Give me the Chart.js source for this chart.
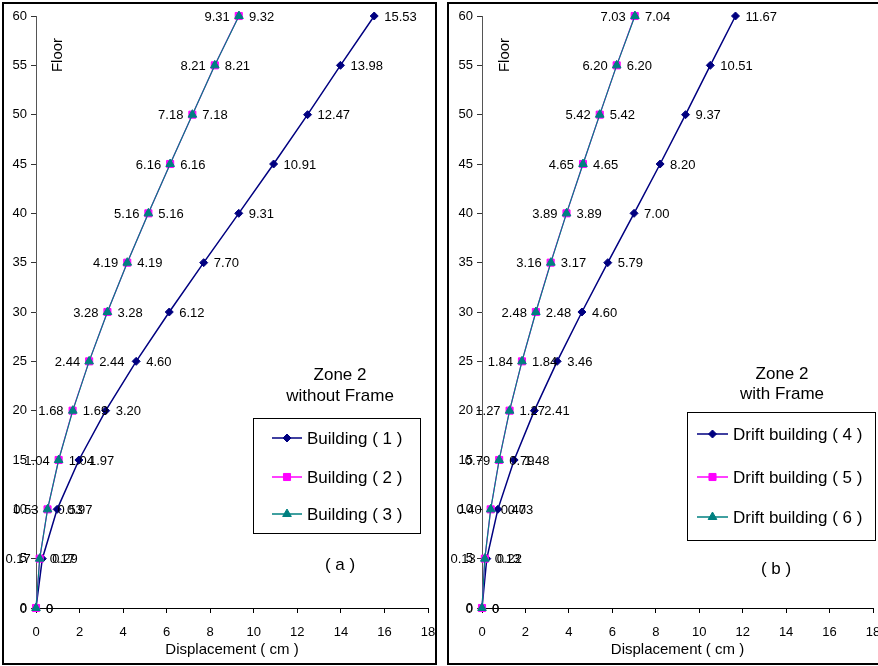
<!DOCTYPE html>
<html>
<head>
<meta charset="utf-8">
<script src="https://cdn.jsdelivr.net/npm/chart.js@4.4.1/dist/chart.umd.min.js"></script>
<style>
  html,body{margin:0;padding:0;background:#fff;overflow:hidden;}
  #wrap{position:relative;width:878px;height:666px;overflow:hidden;background:#fff;}
  canvas{position:absolute;top:0;}
  .box{position:absolute;border:2px solid #000;box-sizing:border-box;pointer-events:none;}
</style>
</head>
<body>
<div id="wrap">
  <canvas id="c1" width="440" height="666" style="left:0px"></canvas>
  <canvas id="c2" width="440" height="666" style="left:440px"></canvas>
  <div class="box" style="left:2px;top:2px;width:435px;height:663px;"></div>
  <div class="box" style="left:447px;top:2px;width:440px;height:663px;"></div>
</div>
<script>
// ---- data ----
const floors = [0, 5, 10, 15, 20, 25, 30, 35, 40, 45, 50, 55, 60];
const building1 = [0, 0.29, 0.97, 1.97, 3.20, 4.60, 6.12, 7.70, 9.31, 10.91, 12.47, 13.98, 15.53];
const building2 = [0, 0.17, 0.53, 1.04, 1.68, 2.44, 3.28, 4.19, 5.16, 6.16, 7.18, 8.21, 9.31];
const building3 = [0, 0.17, 0.53, 1.04, 1.69, 2.44, 3.28, 4.19, 5.16, 6.16, 7.18, 8.21, 9.32];
const drift4 = [0, 0.22, 0.73, 1.48, 2.41, 3.46, 4.60, 5.79, 7.00, 8.20, 9.37, 10.51, 11.67];
const drift5 = [0, 0.13, 0.40, 0.79, 1.27, 1.84, 2.48, 3.16, 3.89, 4.65, 5.42, 6.20, 7.03];
const drift6 = [0, 0.13, 0.40, 0.79, 1.27, 1.84, 2.48, 3.17, 3.89, 4.65, 5.42, 6.20, 7.04];
const namesA = ['Building ( 1 )', 'Building ( 2 )', 'Building ( 3 )'];
const namesB = ['Drift building ( 4 )', 'Drift building ( 5 )', 'Drift building ( 6 )'];
const xTitle = 'Displacement ( cm )';
const yTitle = 'Floor';

const FONT = '"Liberation Sans", Arial, Helvetica, sans-serif';
Chart.defaults.font.family = FONT;
Chart.defaults.color = '#000';

const styles = [
  {color:'#000080', point:'rectRot', r:4, side:'right', order:2, lw:1.5},
  {color:'#FF00FF', point:'rect', r:5, side:'left', order:1, lw:1.2},
  {color:'#008080', point:'triangle', r:5, side:'right', order:0, lw:1.2}
];

function marker(ctx, style, x, y, r, color){
  ctx.save();
  ctx.fillStyle = color; ctx.strokeStyle = color; ctx.lineWidth = 1;
  ctx.beginPath();
  if (style === 'rectRot') {
    ctx.moveTo(x, y - r); ctx.lineTo(x + r, y); ctx.lineTo(x, y + r); ctx.lineTo(x - r, y); ctx.closePath();
  } else if (style === 'rect') {
    const s = r * Math.SQRT1_2; ctx.rect(x - s, y - s, 2 * s, 2 * s);
  } else {
    ctx.moveTo(x, y - r); ctx.lineTo(x + 0.866 * r, y + 0.5 * r); ctx.lineTo(x - 0.866 * r, y + 0.5 * r); ctx.closePath();
  }
  ctx.fill(); ctx.stroke();
  ctx.restore();
}

const labelPlugin = {
  id: 'pointLabels',
  afterDatasetsDraw(chart) {
    const ctx = chart.ctx;
    ctx.save();
    ctx.font = '13px ' + FONT;
    ctx.fillStyle = '#000';
    ctx.textBaseline = 'middle';
    chart.data.datasets.forEach((ds, i) => {
      const meta = chart.getDatasetMeta(i);
      meta.data.forEach((pt, j) => {
        const v = ds.data[j].x;
        const txt = v === 0 ? '0' : v.toFixed(2);
        if (ds.labelSide === 'left') { ctx.textAlign = 'right'; ctx.fillText(txt, pt.x - 9, pt.y + 1); }
        else { ctx.textAlign = 'left'; ctx.fillText(txt, pt.x + 10, pt.y + 1); }
      });
    });
    ctx.restore();
  }
};

const decoPlugin = {
  id: 'deco',
  afterDraw(chart, args, o) {
    const ctx = chart.ctx;
    ctx.save();
    ctx.translate(o.floor[0], o.floor[1]);
    ctx.rotate(-Math.PI / 2);
    ctx.font = '15px ' + FONT; ctx.fillStyle = '#000';
    ctx.textAlign = 'center'; ctx.textBaseline = 'middle';
    ctx.fillText(yTitle, 0, 0);
    ctx.restore();

    ctx.save();
    ctx.font = '17px ' + FONT; ctx.fillStyle = '#000';
    ctx.textAlign = 'center'; ctx.textBaseline = 'middle';
    o.texts.forEach(t => ctx.fillText(t[0], t[1], t[2]));
    const L = o.legend;
    ctx.strokeStyle = '#000'; ctx.lineWidth = 1;
    ctx.strokeRect(L.x + 0.5, L.y + 0.5, L.w, L.h);
    chart.data.datasets.forEach((ds, i) => {
      const y = L.rows[i];
      ctx.strokeStyle = ds.borderColor; ctx.lineWidth = 1.5;
      ctx.beginPath(); ctx.moveTo(L.x1, y); ctx.lineTo(L.x2, y); ctx.stroke();
      marker(ctx, ds.pointStyle, (L.x1 + L.x2) / 2, y, ds.pointRadius, ds.borderColor);
      ctx.fillStyle = '#000'; ctx.textAlign = 'left'; ctx.textBaseline = 'middle';
      ctx.font = '17px ' + FONT;
      ctx.fillText(ds.label, L.tx, y + 1);
    });
    ctx.restore();
  }
};

function makeChart(id, names, series, yw, rightPad, deco) {
  const datasets = series.map((vals, i) => {
    const s = styles[i];
    return {
      label: names[i],
      data: vals.map((v, k) => ({x: v, y: floors[k]})),
      showLine: true,
      borderColor: s.color,
      backgroundColor: s.color,
      borderWidth: s.lw,
      pointStyle: s.point,
      pointRadius: s.r,
      pointHoverRadius: s.r,
      pointBackgroundColor: s.color,
      pointBorderColor: s.color,
      pointBorderWidth: 1,
      order: s.order,
      clip: false,
      labelSide: s.side
    };
  });
  return new Chart(document.getElementById(id), {
    type: 'scatter',
    data: {datasets},
    options: {
      responsive: false, animation: false, devicePixelRatio: 1,
      layout: {padding: {top: 16, right: rightPad, bottom: 0, left: 0}},
      plugins: {legend: {display: false}, tooltip: {enabled: false}, deco: deco},
      scales: {
        x: {
          type: 'linear', min: 0, max: 18,
          ticks: {stepSize: 2, font: {size: 13}, color: '#000', padding: 12, maxRotation: 0},
          grid: {drawOnChartArea: false, drawTicks: true, tickLength: 5, tickColor: '#000'},
          border: {display: true, color: '#000', width: 1},
          title: {display: true, text: xTitle, font: {size: 15}, color: '#000', padding: {top: 0, bottom: 7}},
          afterFit(s) { s.height = 58; s.paddingLeft = 0; s.paddingRight = 0; }
        },
        y: {
          type: 'linear', min: 0, max: 60,
          ticks: {stepSize: 5, font: {size: 13}, color: '#000', padding: 4},
          grid: {drawOnChartArea: false, drawTicks: true, tickLength: 5, tickColor: '#333'},
          border: {display: true, color: '#555', width: 1},
          afterFit(s) { s.width = yw; s.paddingTop = 0; s.paddingBottom = 0; }
        }
      }
    },
    plugins: [labelPlugin, decoPlugin]
  });
}

makeChart('c1', namesA, [building1, building2, building3], 36, 12, {
  floor: [58, 55],
  texts: [['Zone 2', 340, 375], ['without Frame', 340, 396], ['( a )', 340, 565]],
  legend: {x: 253, y: 418, w: 167, h: 115, rows: [438, 477, 514], x1: 272, x2: 302, tx: 307}
});
makeChart('c2', namesB, [drift4, drift5, drift6], 42, 7, {
  floor: [65, 55],
  texts: [['Zone 2', 342, 374], ['with Frame', 342, 394], ['( b )', 336, 569]],
  legend: {x: 247, y: 412, w: 188, h: 128, rows: [434, 477, 517], x1: 257, x2: 288, tx: 293}
});
</script>
</body>
</html>
